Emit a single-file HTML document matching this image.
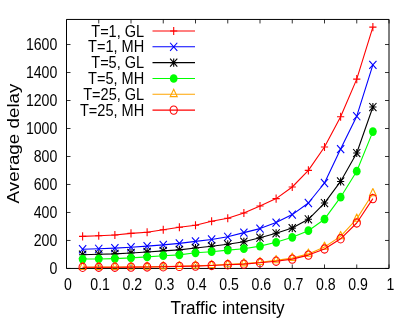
<!DOCTYPE html>
<html><head><meta charset="utf-8"><title>chart</title>
<style>
html,body{margin:0;padding:0;background:#fff;}
body{width:415px;height:319px;overflow:hidden;}
svg{display:block;font-family:"Liberation Sans",sans-serif;will-change:transform;opacity:0.999;}
</style></head><body>
<svg width="415" height="319" viewBox="0 0 415 319">

<path d="M66.50,268.45v-4.0M66.50,19.45v4.0M98.75,268.45v-4.0M98.75,19.45v4.0M131.00,268.45v-4.0M131.00,19.45v4.0M163.25,268.45v-4.0M163.25,19.45v4.0M195.50,268.45v-4.0M195.50,19.45v4.0M227.75,268.45v-4.0M227.75,19.45v4.0M260.00,268.45v-4.0M260.00,19.45v4.0M292.25,268.45v-4.0M292.25,19.45v4.0M324.50,268.45v-4.0M324.50,19.45v4.0M356.75,268.45v-4.0M356.75,19.45v4.0M389.00,268.45v-4.0M389.00,19.45v4.0M66.5,268.45h4.0M389.0,268.45h-4.0M66.5,240.46h4.0M389.0,240.46h-4.0M66.5,212.47h4.0M389.0,212.47h-4.0M66.5,184.48h4.0M389.0,184.48h-4.0M66.5,156.49h4.0M389.0,156.49h-4.0M66.5,128.50h4.0M389.0,128.50h-4.0M66.5,100.51h4.0M389.0,100.51h-4.0M66.5,72.52h4.0M389.0,72.52h-4.0M66.5,44.53h4.0M389.0,44.53h-4.0" fill="none" stroke="#000" stroke-width="0.8"/>
<path d="M66.5,19.45H389.0V268.45H66.5Z" fill="none" stroke="#000" stroke-width="1"/>
<g stroke-width="1.1" stroke-linecap="butt" stroke-linejoin="round">
<polyline points="82.62,236.40 98.75,235.70 114.88,235.00 131.00,233.40 147.12,232.20 163.25,229.70 179.38,227.30 195.50,225.30 211.62,221.30 227.75,218.30 243.88,213.00 260.00,206.00 276.12,198.60 292.25,187.00 308.38,170.40 324.50,147.00 340.62,116.80 356.75,79.10 372.88,27.10" fill="none" stroke="#ff0000"/>
<path d="M79.03,236.40H86.22M82.62,232.35V240.45" stroke="#ff0000" fill="none"/>
<path d="M95.15,235.70H102.35M98.75,231.65V239.75" stroke="#ff0000" fill="none"/>
<path d="M111.28,235.00H118.47M114.88,230.95V239.05" stroke="#ff0000" fill="none"/>
<path d="M127.40,233.40H134.60M131.00,229.35V237.45" stroke="#ff0000" fill="none"/>
<path d="M143.53,232.20H150.72M147.12,228.15V236.25" stroke="#ff0000" fill="none"/>
<path d="M159.65,229.70H166.85M163.25,225.65V233.75" stroke="#ff0000" fill="none"/>
<path d="M175.78,227.30H182.97M179.38,223.25V231.35" stroke="#ff0000" fill="none"/>
<path d="M191.90,225.30H199.10M195.50,221.25V229.35" stroke="#ff0000" fill="none"/>
<path d="M208.03,221.30H215.22M211.62,217.25V225.35" stroke="#ff0000" fill="none"/>
<path d="M224.15,218.30H231.35M227.75,214.25V222.35" stroke="#ff0000" fill="none"/>
<path d="M240.28,213.00H247.48M243.88,208.95V217.05" stroke="#ff0000" fill="none"/>
<path d="M256.40,206.00H263.60M260.00,201.95V210.05" stroke="#ff0000" fill="none"/>
<path d="M272.52,198.60H279.73M276.12,194.55V202.65" stroke="#ff0000" fill="none"/>
<path d="M288.65,187.00H295.85M292.25,182.95V191.05" stroke="#ff0000" fill="none"/>
<path d="M304.77,170.40H311.98M308.38,166.35V174.45" stroke="#ff0000" fill="none"/>
<path d="M320.90,147.00H328.10M324.50,142.95V151.05" stroke="#ff0000" fill="none"/>
<path d="M337.02,116.80H344.23M340.62,112.75V120.85" stroke="#ff0000" fill="none"/>
<path d="M353.15,79.10H360.35M356.75,75.05V83.15" stroke="#ff0000" fill="none"/>
<path d="M369.27,27.10H376.48M372.88,23.05V31.15" stroke="#ff0000" fill="none"/>
<polyline points="82.62,249.25 98.75,248.80 114.88,248.10 131.00,247.25 147.12,246.10 163.25,244.90 179.38,243.40 195.50,241.40 211.62,239.50 227.75,236.80 243.88,232.60 260.00,228.60 276.12,222.60 292.25,214.60 308.38,203.00 324.50,183.00 340.62,149.10 356.75,116.20 372.88,64.90" fill="none" stroke="#0000ff"/>
<path d="M79.03,245.20L86.22,253.30M79.03,253.30L86.22,245.20" stroke="#0000ff" fill="none"/>
<path d="M95.15,244.75L102.35,252.85M95.15,252.85L102.35,244.75" stroke="#0000ff" fill="none"/>
<path d="M111.28,244.05L118.47,252.15M111.28,252.15L118.47,244.05" stroke="#0000ff" fill="none"/>
<path d="M127.40,243.20L134.60,251.30M127.40,251.30L134.60,243.20" stroke="#0000ff" fill="none"/>
<path d="M143.53,242.05L150.72,250.15M143.53,250.15L150.72,242.05" stroke="#0000ff" fill="none"/>
<path d="M159.65,240.85L166.85,248.95M159.65,248.95L166.85,240.85" stroke="#0000ff" fill="none"/>
<path d="M175.78,239.35L182.97,247.45M175.78,247.45L182.97,239.35" stroke="#0000ff" fill="none"/>
<path d="M191.90,237.35L199.10,245.45M191.90,245.45L199.10,237.35" stroke="#0000ff" fill="none"/>
<path d="M208.03,235.45L215.22,243.55M208.03,243.55L215.22,235.45" stroke="#0000ff" fill="none"/>
<path d="M224.15,232.75L231.35,240.85M224.15,240.85L231.35,232.75" stroke="#0000ff" fill="none"/>
<path d="M240.28,228.55L247.48,236.65M240.28,236.65L247.48,228.55" stroke="#0000ff" fill="none"/>
<path d="M256.40,224.55L263.60,232.65M256.40,232.65L263.60,224.55" stroke="#0000ff" fill="none"/>
<path d="M272.52,218.55L279.73,226.65M272.52,226.65L279.73,218.55" stroke="#0000ff" fill="none"/>
<path d="M288.65,210.55L295.85,218.65M288.65,218.65L295.85,210.55" stroke="#0000ff" fill="none"/>
<path d="M304.77,198.95L311.98,207.05M304.77,207.05L311.98,198.95" stroke="#0000ff" fill="none"/>
<path d="M320.90,178.95L328.10,187.05M320.90,187.05L328.10,178.95" stroke="#0000ff" fill="none"/>
<path d="M337.02,145.05L344.23,153.15M337.02,153.15L344.23,145.05" stroke="#0000ff" fill="none"/>
<path d="M353.15,112.15L360.35,120.25M353.15,120.25L360.35,112.15" stroke="#0000ff" fill="none"/>
<path d="M369.27,60.85L376.48,68.95M369.27,68.95L376.48,60.85" stroke="#0000ff" fill="none"/>
<polyline points="82.62,254.70 98.75,254.30 114.88,253.90 131.00,253.00 147.12,252.00 163.25,250.85 179.38,249.90 195.50,248.00 211.62,246.20 227.75,244.30 243.88,241.70 260.00,237.70 276.12,233.30 292.25,228.10 308.38,219.30 324.50,203.05 340.62,181.45 356.75,153.05 372.88,107.05" fill="none" stroke="#000000"/>
<path d="M79.03,254.70H86.22M82.62,250.65V258.75M79.03,250.65L86.22,258.75M79.03,258.75L86.22,250.65" stroke="#000000" fill="none"/>
<path d="M95.15,254.30H102.35M98.75,250.25V258.35M95.15,250.25L102.35,258.35M95.15,258.35L102.35,250.25" stroke="#000000" fill="none"/>
<path d="M111.28,253.90H118.47M114.88,249.85V257.95M111.28,249.85L118.47,257.95M111.28,257.95L118.47,249.85" stroke="#000000" fill="none"/>
<path d="M127.40,253.00H134.60M131.00,248.95V257.05M127.40,248.95L134.60,257.05M127.40,257.05L134.60,248.95" stroke="#000000" fill="none"/>
<path d="M143.53,252.00H150.72M147.12,247.95V256.05M143.53,247.95L150.72,256.05M143.53,256.05L150.72,247.95" stroke="#000000" fill="none"/>
<path d="M159.65,250.85H166.85M163.25,246.80V254.90M159.65,246.80L166.85,254.90M159.65,254.90L166.85,246.80" stroke="#000000" fill="none"/>
<path d="M175.78,249.90H182.97M179.38,245.85V253.95M175.78,245.85L182.97,253.95M175.78,253.95L182.97,245.85" stroke="#000000" fill="none"/>
<path d="M191.90,248.00H199.10M195.50,243.95V252.05M191.90,243.95L199.10,252.05M191.90,252.05L199.10,243.95" stroke="#000000" fill="none"/>
<path d="M208.03,246.20H215.22M211.62,242.15V250.25M208.03,242.15L215.22,250.25M208.03,250.25L215.22,242.15" stroke="#000000" fill="none"/>
<path d="M224.15,244.30H231.35M227.75,240.25V248.35M224.15,240.25L231.35,248.35M224.15,248.35L231.35,240.25" stroke="#000000" fill="none"/>
<path d="M240.28,241.70H247.48M243.88,237.65V245.75M240.28,237.65L247.48,245.75M240.28,245.75L247.48,237.65" stroke="#000000" fill="none"/>
<path d="M256.40,237.70H263.60M260.00,233.65V241.75M256.40,233.65L263.60,241.75M256.40,241.75L263.60,233.65" stroke="#000000" fill="none"/>
<path d="M272.52,233.30H279.73M276.12,229.25V237.35M272.52,229.25L279.73,237.35M272.52,237.35L279.73,229.25" stroke="#000000" fill="none"/>
<path d="M288.65,228.10H295.85M292.25,224.05V232.15M288.65,224.05L295.85,232.15M288.65,232.15L295.85,224.05" stroke="#000000" fill="none"/>
<path d="M304.77,219.30H311.98M308.38,215.25V223.35M304.77,215.25L311.98,223.35M304.77,223.35L311.98,215.25" stroke="#000000" fill="none"/>
<path d="M320.90,203.05H328.10M324.50,199.00V207.10M320.90,199.00L328.10,207.10M320.90,207.10L328.10,199.00" stroke="#000000" fill="none"/>
<path d="M337.02,181.45H344.23M340.62,177.40V185.50M337.02,177.40L344.23,185.50M337.02,185.50L344.23,177.40" stroke="#000000" fill="none"/>
<path d="M353.15,153.05H360.35M356.75,149.00V157.10M353.15,149.00L360.35,157.10M353.15,157.10L360.35,149.00" stroke="#000000" fill="none"/>
<path d="M369.27,107.05H376.48M372.88,103.00V111.10M369.27,103.00L376.48,111.10M369.27,111.10L376.48,103.00" stroke="#000000" fill="none"/>
<polyline points="82.62,259.05 98.75,258.95 114.88,258.60 131.00,257.90 147.12,256.90 163.25,255.70 179.38,254.90 195.50,252.80 211.62,251.70 227.75,250.10 243.88,248.70 260.00,246.10 276.12,242.30 292.25,237.30 308.38,230.70 324.50,219.20 340.62,197.20 356.75,171.20 372.88,131.60" fill="none" stroke="#00ff00"/>
<ellipse cx="82.62" cy="259.05" rx="3.90" ry="4.35" fill="#00ff00" stroke="none"/>
<ellipse cx="98.75" cy="258.95" rx="3.90" ry="4.35" fill="#00ff00" stroke="none"/>
<ellipse cx="114.88" cy="258.60" rx="3.90" ry="4.35" fill="#00ff00" stroke="none"/>
<ellipse cx="131.00" cy="257.90" rx="3.90" ry="4.35" fill="#00ff00" stroke="none"/>
<ellipse cx="147.12" cy="256.90" rx="3.90" ry="4.35" fill="#00ff00" stroke="none"/>
<ellipse cx="163.25" cy="255.70" rx="3.90" ry="4.35" fill="#00ff00" stroke="none"/>
<ellipse cx="179.38" cy="254.90" rx="3.90" ry="4.35" fill="#00ff00" stroke="none"/>
<ellipse cx="195.50" cy="252.80" rx="3.90" ry="4.35" fill="#00ff00" stroke="none"/>
<ellipse cx="211.62" cy="251.70" rx="3.90" ry="4.35" fill="#00ff00" stroke="none"/>
<ellipse cx="227.75" cy="250.10" rx="3.90" ry="4.35" fill="#00ff00" stroke="none"/>
<ellipse cx="243.88" cy="248.70" rx="3.90" ry="4.35" fill="#00ff00" stroke="none"/>
<ellipse cx="260.00" cy="246.10" rx="3.90" ry="4.35" fill="#00ff00" stroke="none"/>
<ellipse cx="276.12" cy="242.30" rx="3.90" ry="4.35" fill="#00ff00" stroke="none"/>
<ellipse cx="292.25" cy="237.30" rx="3.90" ry="4.35" fill="#00ff00" stroke="none"/>
<ellipse cx="308.38" cy="230.70" rx="3.90" ry="4.35" fill="#00ff00" stroke="none"/>
<ellipse cx="324.50" cy="219.20" rx="3.90" ry="4.35" fill="#00ff00" stroke="none"/>
<ellipse cx="340.62" cy="197.20" rx="3.90" ry="4.35" fill="#00ff00" stroke="none"/>
<ellipse cx="356.75" cy="171.20" rx="3.90" ry="4.35" fill="#00ff00" stroke="none"/>
<ellipse cx="372.88" cy="131.60" rx="3.90" ry="4.35" fill="#00ff00" stroke="none"/>
<polyline points="82.62,267.20 98.75,267.15 114.88,267.10 131.00,267.00 147.12,266.90 163.25,266.60 179.38,266.20 195.50,265.80 211.62,265.20 227.75,264.40 243.88,263.60 260.00,262.20 276.12,260.40 292.25,258.10 308.38,253.90 324.50,247.00 340.62,236.40 356.75,218.90 372.88,193.50" fill="none" stroke="#ffa500"/>
<path d="M82.62,262.20L86.12,269.50L79.12,269.50Z" fill="none" stroke="#ffa500"/>
<path d="M98.75,262.15L102.25,269.45L95.25,269.45Z" fill="none" stroke="#ffa500"/>
<path d="M114.88,262.10L118.38,269.40L111.38,269.40Z" fill="none" stroke="#ffa500"/>
<path d="M131.00,262.00L134.50,269.30L127.50,269.30Z" fill="none" stroke="#ffa500"/>
<path d="M147.12,261.90L150.62,269.20L143.62,269.20Z" fill="none" stroke="#ffa500"/>
<path d="M163.25,261.60L166.75,268.90L159.75,268.90Z" fill="none" stroke="#ffa500"/>
<path d="M179.38,261.20L182.88,268.50L175.88,268.50Z" fill="none" stroke="#ffa500"/>
<path d="M195.50,260.80L199.00,268.10L192.00,268.10Z" fill="none" stroke="#ffa500"/>
<path d="M211.62,260.20L215.12,267.50L208.12,267.50Z" fill="none" stroke="#ffa500"/>
<path d="M227.75,259.40L231.25,266.70L224.25,266.70Z" fill="none" stroke="#ffa500"/>
<path d="M243.88,258.60L247.38,265.90L240.38,265.90Z" fill="none" stroke="#ffa500"/>
<path d="M260.00,257.20L263.50,264.50L256.50,264.50Z" fill="none" stroke="#ffa500"/>
<path d="M276.12,255.40L279.62,262.70L272.62,262.70Z" fill="none" stroke="#ffa500"/>
<path d="M292.25,253.10L295.75,260.40L288.75,260.40Z" fill="none" stroke="#ffa500"/>
<path d="M308.38,248.90L311.88,256.20L304.88,256.20Z" fill="none" stroke="#ffa500"/>
<path d="M324.50,242.00L328.00,249.30L321.00,249.30Z" fill="none" stroke="#ffa500"/>
<path d="M340.62,231.40L344.12,238.70L337.12,238.70Z" fill="none" stroke="#ffa500"/>
<path d="M356.75,213.90L360.25,221.20L353.25,221.20Z" fill="none" stroke="#ffa500"/>
<path d="M372.88,188.50L376.38,195.80L369.38,195.80Z" fill="none" stroke="#ffa500"/>
<polyline points="82.62,267.30 98.75,267.25 114.88,267.20 131.00,267.10 147.12,267.00 163.25,266.80 179.38,266.40 195.50,266.10 211.62,265.50 227.75,264.80 243.88,264.10 260.00,262.80 276.12,261.20 292.25,259.10 308.38,255.10 324.50,249.00 340.62,238.80 356.75,223.00 372.88,198.60" fill="none" stroke="#ff0000"/>
<ellipse cx="82.62" cy="267.30" rx="3.60" ry="4.15" fill="none" stroke="#ff0000"/>
<ellipse cx="98.75" cy="267.25" rx="3.60" ry="4.15" fill="none" stroke="#ff0000"/>
<ellipse cx="114.88" cy="267.20" rx="3.60" ry="4.15" fill="none" stroke="#ff0000"/>
<ellipse cx="131.00" cy="267.10" rx="3.60" ry="4.15" fill="none" stroke="#ff0000"/>
<ellipse cx="147.12" cy="267.00" rx="3.60" ry="4.15" fill="none" stroke="#ff0000"/>
<ellipse cx="163.25" cy="266.80" rx="3.60" ry="4.15" fill="none" stroke="#ff0000"/>
<ellipse cx="179.38" cy="266.40" rx="3.60" ry="4.15" fill="none" stroke="#ff0000"/>
<ellipse cx="195.50" cy="266.10" rx="3.60" ry="4.15" fill="none" stroke="#ff0000"/>
<ellipse cx="211.62" cy="265.50" rx="3.60" ry="4.15" fill="none" stroke="#ff0000"/>
<ellipse cx="227.75" cy="264.80" rx="3.60" ry="4.15" fill="none" stroke="#ff0000"/>
<ellipse cx="243.88" cy="264.10" rx="3.60" ry="4.15" fill="none" stroke="#ff0000"/>
<ellipse cx="260.00" cy="262.80" rx="3.60" ry="4.15" fill="none" stroke="#ff0000"/>
<ellipse cx="276.12" cy="261.20" rx="3.60" ry="4.15" fill="none" stroke="#ff0000"/>
<ellipse cx="292.25" cy="259.10" rx="3.60" ry="4.15" fill="none" stroke="#ff0000"/>
<ellipse cx="308.38" cy="255.10" rx="3.60" ry="4.15" fill="none" stroke="#ff0000"/>
<ellipse cx="324.50" cy="249.00" rx="3.60" ry="4.15" fill="none" stroke="#ff0000"/>
<ellipse cx="340.62" cy="238.80" rx="3.60" ry="4.15" fill="none" stroke="#ff0000"/>
<ellipse cx="356.75" cy="223.00" rx="3.60" ry="4.15" fill="none" stroke="#ff0000"/>
<ellipse cx="372.88" cy="198.60" rx="3.60" ry="4.15" fill="none" stroke="#ff0000"/>
</g>
<g stroke-width="1.1">
<path d="M152.5,31.0H195" stroke="#ff0000" fill="none"/>
<path d="M170.10,31.00H177.30M173.70,26.95V35.05" stroke="#ff0000" fill="none"/>
<path d="M152.5,46.8H195" stroke="#0000ff" fill="none"/>
<path d="M170.10,42.75L177.30,50.85M170.10,50.85L177.30,42.75" stroke="#0000ff" fill="none"/>
<path d="M152.5,62.6H195" stroke="#000000" fill="none"/>
<path d="M170.10,62.60H177.30M173.70,58.55V66.65M170.10,58.55L177.30,66.65M170.10,66.65L177.30,58.55" stroke="#000000" fill="none"/>
<path d="M152.5,78.5H195" stroke="#00ff00" fill="none"/>
<ellipse cx="173.70" cy="78.50" rx="3.90" ry="4.35" fill="#00ff00" stroke="none"/>
<path d="M152.5,94.3H195" stroke="#ffa500" fill="none"/>
<path d="M173.70,89.30L177.20,96.60L170.20,96.60Z" fill="none" stroke="#ffa500"/>
<path d="M152.5,110.1H195" stroke="#ff0000" fill="none"/>
<ellipse cx="173.70" cy="110.10" rx="3.60" ry="4.15" fill="none" stroke="#ff0000"/>
</g>
<text transform="translate(144.2,36.6) scale(0.927,1)" font-size="15.7" text-anchor="end">T=1, GL</text>
<text transform="translate(144.2,52.4) scale(0.927,1)" font-size="15.7" text-anchor="end">T=1, MH</text>
<text transform="translate(144.2,68.2) scale(0.927,1)" font-size="15.7" text-anchor="end">T=5, GL</text>
<text transform="translate(144.2,84.1) scale(0.927,1)" font-size="15.7" text-anchor="end">T=5, MH</text>
<text transform="translate(144.2,99.89999999999999) scale(0.927,1)" font-size="15.7" text-anchor="end">T=25, GL</text>
<text transform="translate(144.2,115.69999999999999) scale(0.927,1)" font-size="15.7" text-anchor="end">T=25, MH</text>
<text transform="translate(67.9,289.8) scale(0.9,1)" font-size="15.7" text-anchor="middle">0</text>
<text transform="translate(100.15,289.8) scale(0.9,1)" font-size="15.7" text-anchor="middle">0.1</text>
<text transform="translate(132.4,289.8) scale(0.9,1)" font-size="15.7" text-anchor="middle">0.2</text>
<text transform="translate(164.65,289.8) scale(0.9,1)" font-size="15.7" text-anchor="middle">0.3</text>
<text transform="translate(196.9,289.8) scale(0.9,1)" font-size="15.7" text-anchor="middle">0.4</text>
<text transform="translate(229.15,289.8) scale(0.9,1)" font-size="15.7" text-anchor="middle">0.5</text>
<text transform="translate(261.4,289.8) scale(0.9,1)" font-size="15.7" text-anchor="middle">0.6</text>
<text transform="translate(293.65,289.8) scale(0.9,1)" font-size="15.7" text-anchor="middle">0.7</text>
<text transform="translate(325.9,289.8) scale(0.9,1)" font-size="15.7" text-anchor="middle">0.8</text>
<text transform="translate(358.15,289.8) scale(0.9,1)" font-size="15.7" text-anchor="middle">0.9</text>
<text transform="translate(390.4,289.8) scale(0.9,1)" font-size="15.7" text-anchor="middle">1</text>
<text transform="translate(57.3,274.05) scale(0.9,1)" font-size="15.7" text-anchor="end">0</text>
<text transform="translate(57.3,246.06) scale(0.9,1)" font-size="15.7" text-anchor="end">200</text>
<text transform="translate(57.3,218.07) scale(0.9,1)" font-size="15.7" text-anchor="end">400</text>
<text transform="translate(57.3,190.08) scale(0.9,1)" font-size="15.7" text-anchor="end">600</text>
<text transform="translate(57.3,162.09) scale(0.9,1)" font-size="15.7" text-anchor="end">800</text>
<text transform="translate(57.3,134.1) scale(0.9,1)" font-size="15.7" text-anchor="end">1000</text>
<text transform="translate(57.3,106.11) scale(0.9,1)" font-size="15.7" text-anchor="end">1200</text>
<text transform="translate(57.3,78.12) scale(0.9,1)" font-size="15.7" text-anchor="end">1400</text>
<text transform="translate(57.3,50.13) scale(0.9,1)" font-size="15.7" text-anchor="end">1600</text>
<text transform="translate(227.6,314.2) scale(0.91,1)" font-size="18.8" text-anchor="middle">Traffic intensity</text>
<text transform="translate(19,143.5) rotate(-90) scale(1,0.91)" font-size="18.8" text-anchor="middle">Average delay</text>
</svg></body></html>
